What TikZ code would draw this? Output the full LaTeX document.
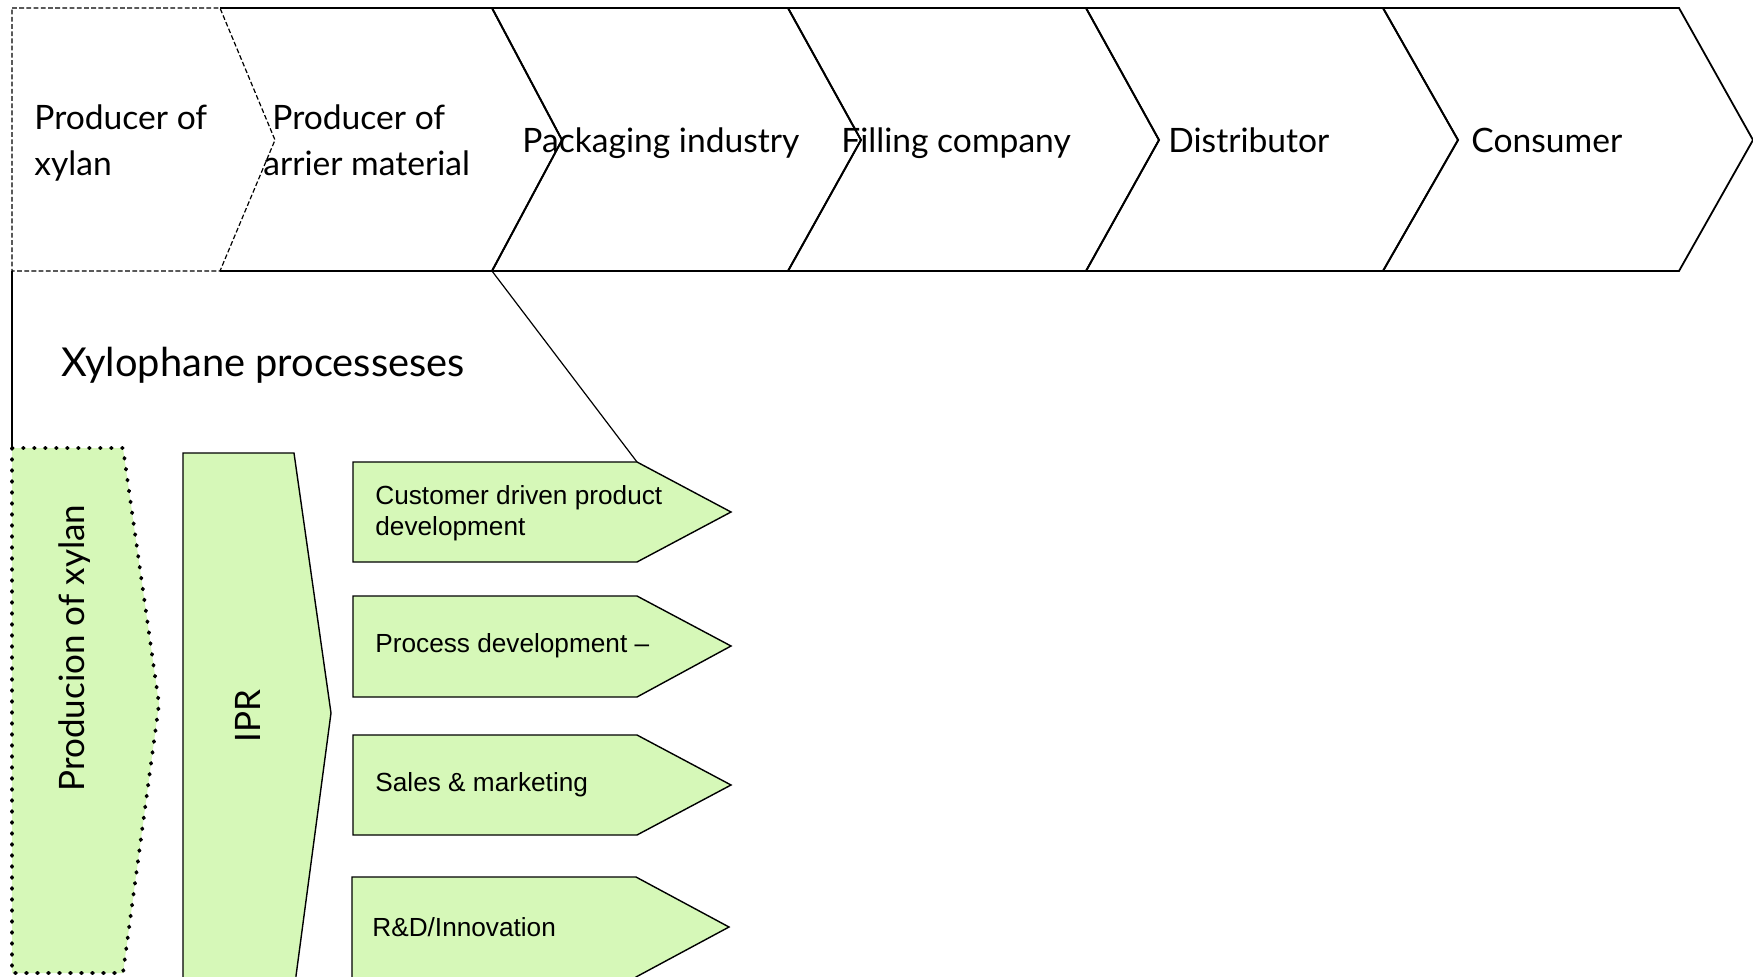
\documentclass[tikz,border=0pt]{standalone}
\usepackage{fontspec}
\setmainfont{Lato}
\newfontfamily\arialfont{Liberation Sans}
\definecolor{lgreen}{HTML}{D6F8B8}
\begin{document}
\begin{tikzpicture}[x=0.5pt,y=-0.5pt,
  chev/.style={draw=black, line width=0.9pt, line join=miter},
  dashchev/.style={draw=black, line width=0.6pt, dash pattern=on 2.4pt off 1.2pt},
  greenarrow/.style={fill=lgreen, draw=black, line width=0.7pt},
  dotbox/.style={fill=lgreen, draw=black, line width=1.9pt, line cap=round, dash pattern=on 0.4pt off 5.1pt},
  toplabel/.style={font=\fontsize{16.8}{23}\selectfont, anchor=base west, inner sep=0pt},
  biglabel/.style={font=\fontsize{19.9}{23}\selectfont, anchor=base west, inner sep=0pt},
  rotlabel/.style={font=\fontsize{17.5}{20}\selectfont, rotate=90, inner sep=0pt},
  arrlabel/.style={font=\arialfont\fontsize{13.1}{15.5}\selectfont, anchor=west, inner sep=0pt, align=left}]
\clip (0,0) rectangle (1753,976);
\fill[white] (0,0) rectangle (1753,976);
% top row chevrons
\draw[chev] (220,8) -- (492,8) -- (562,140) -- (492,271) -- (220,271);
\draw[chev] (492,8) -- (788,8) -- (861,140) -- (788,271) -- (492,271) -- (562,140) -- cycle;
\draw[chev] (788,8) -- (1086,8) -- (1159,140) -- (1086,271) -- (788,271) -- (861,140) -- cycle;
\draw[chev] (1086,8) -- (1383,8) -- (1458,140) -- (1383,271) -- (1086,271) -- (1159,140) -- cycle;
\draw[chev] (1383,8) -- (1679,8) -- (1753,140) -- (1679,271) -- (1383,271) -- (1458,140) -- cycle;
\draw[dashchev] (12,8) -- (220,8) -- (275,140) -- (220,271) -- (12,271) -- cycle;
% lower frame
\draw[line width=0.6pt] (12,271) -- (12,448);
\coordinate (diagtop) at (492,271);
\coordinate (diagbot) at (637,462);
\draw[line width=0.6pt] (diagtop) -- (diagbot);
% green shapes
\draw[dotbox] (12,448) -- (123,448) -- (159,704) -- (123,973) -- (12,973) -- cycle;
\draw[greenarrow] (183,453) -- (294,453) -- (331,713) -- (296,976) -- (296,990) -- (183,990) -- cycle;
\draw[greenarrow] (353,462) -- (637,462) -- (731,512) -- (637,562) -- (353,562) -- cycle;
\draw[greenarrow] (353,596) -- (637,596) -- (731,646) -- (637,697) -- (353,697) -- cycle;
\draw[greenarrow] (353,735) -- (637,735) -- (731,785) -- (637,835) -- (353,835) -- cycle;
\draw[greenarrow] (352,877) -- (636,877) -- (729,927) -- (636,977) -- (636,990) -- (352,990) -- cycle;
% labels
\node[toplabel] (p1a) at (34,129) {Producer of};
\node[toplabel] (p1b) at (34,175) {xylan};
\node[toplabel] (p2a) at (272,129) {Producer of};
\node[toplabel] (p2b) at (263,175) {arrier material};
\node[toplabel] (p3) at (522,152) {Packaging industry};
\node[toplabel] (p4) at (841,152) {Filling company};
\node[toplabel] (p5) at (1168,152) {Distributor};
\node[toplabel] (p6) at (1471,152) {Consumer};
\node[biglabel] (xp) at (61,376) {Xylophane processeses};
\node[rotlabel] (px) at (75,648) {Producion of xylan};
\node[rotlabel] (ipr) at (248,716) {IPR};
\node[arrlabel] (a1) at (375,513) {Customer driven product\\development};
\node[arrlabel] (a2) at (375,646) {Process development –};
\node[arrlabel] (a3) at (375,785) {Sales \& marketing};
\node[arrlabel] (a4) at (372,927) {R\&D/Innovation};
\end{tikzpicture}
\end{document}
